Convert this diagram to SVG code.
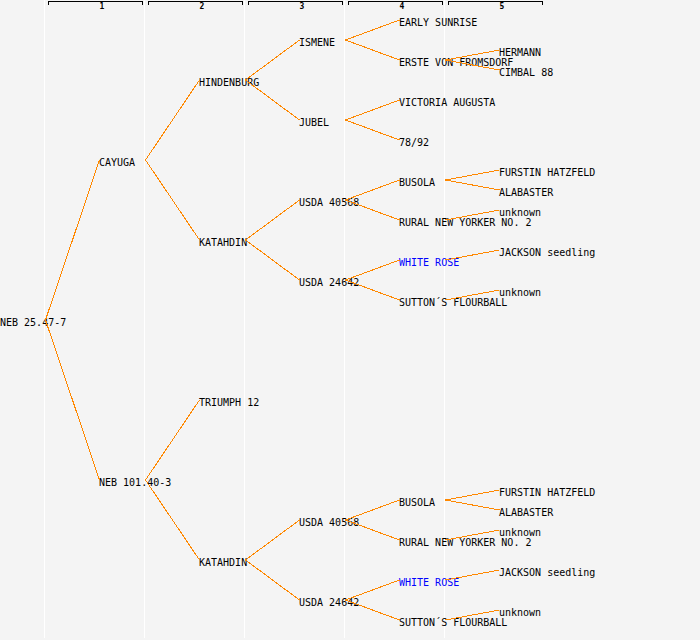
<svg xmlns="http://www.w3.org/2000/svg" width="700" height="640" viewBox="0 0 700 640">
<style>
.bg{fill:#f4f4f4}
.sep{stroke:#ffffff;stroke-width:1;shape-rendering:crispEdges}
.br{fill:none;stroke:#000;stroke-width:1;shape-rendering:crispEdges}
.hd{font-family:"DejaVu Sans Mono","Liberation Mono",monospace;font-size:8px;font-weight:bold;fill:#000;text-anchor:middle}
.t{font-family:"DejaVu Sans Mono","Liberation Mono",monospace;font-size:10px;fill:#000}
.b{fill:#0000ff}
#connectors line{stroke:#ff8800;stroke-width:1;shape-rendering:crispEdges}
</style>
<rect class="bg" x="0" y="0" width="700" height="640"/>
<g id="grid">
<line class="sep" x1="44.5" y1="0" x2="44.5" y2="638"/>
<line class="sep" x1="144.5" y1="0" x2="144.5" y2="638"/>
<line class="sep" x1="244.5" y1="0" x2="244.5" y2="638"/>
<line class="sep" x1="344.5" y1="0" x2="344.5" y2="638"/>
<line class="sep" x1="444.5" y1="0" x2="444.5" y2="638"/>
<path class="br" d="M48.5 4.5V1.5H142.5V4.5M148.5 4.5V1.5H242.5V4.5M248.5 4.5V1.5H342.5V4.5M348.5 4.5V1.5H442.5V4.5M448.5 4.5V1.5H542.5V4.5"/>
<text class="hd" x="102" y="9">1</text>
<text class="hd" x="202" y="9">2</text>
<text class="hd" x="302" y="9">3</text>
<text class="hd" x="402" y="9">4</text>
<text class="hd" x="502" y="9">5</text>
</g>
<g id="n1"><text class="t" x="0" y="326">NEB 25.47-7</text></g>
<g id="n2"><text class="t" x="99" y="166">CAYUGA</text></g>
<g id="n3"><text class="t" x="99" y="486">NEB 101.40-3</text></g>
<g id="n4"><text class="t" x="199" y="86">HINDENBURG</text></g>
<g id="n5"><text class="t" x="199" y="246">KATAHDIN</text></g>
<g id="n6"><text class="t" x="199" y="406">TRIUMPH 12</text></g>
<g id="n7"><text class="t" x="199" y="566">KATAHDIN</text></g>
<g id="n8"><text class="t" x="299" y="46">ISMENE</text></g>
<g id="n9"><text class="t" x="299" y="126">JUBEL</text></g>
<g id="n10"><text class="t" x="299" y="206">USDA 40568</text></g>
<g id="n11"><text class="t" x="299" y="286">USDA 24642</text></g>
<g id="n12"><text class="t" x="299" y="526">USDA 40568</text></g>
<g id="n13"><text class="t" x="299" y="606">USDA 24642</text></g>
<g id="n14"><text class="t" x="399" y="26">EARLY SUNRISE</text></g>
<g id="n15"><text class="t" x="399" y="66">ERSTE VON FROMSDORF</text></g>
<g id="n16"><text class="t" x="399" y="106">VICTORIA AUGUSTA</text></g>
<g id="n17"><text class="t" x="399" y="146">78/92</text></g>
<g id="n18"><text class="t" x="399" y="186">BUSOLA</text></g>
<g id="n19"><text class="t" x="399" y="226">RURAL NEW YORKER NO. 2</text></g>
<g id="n20"><text class="t b" x="399" y="266">WHITE ROSE</text></g>
<g id="n21"><text class="t" x="399" y="306">SUTTON´S FLOURBALL</text></g>
<g id="n22"><text class="t" x="399" y="506">BUSOLA</text></g>
<g id="n23"><text class="t" x="399" y="546">RURAL NEW YORKER NO. 2</text></g>
<g id="n24"><text class="t b" x="399" y="586">WHITE ROSE</text></g>
<g id="n25"><text class="t" x="399" y="626">SUTTON´S FLOURBALL</text></g>
<g id="n26"><text class="t" x="499" y="56">HERMANN</text></g>
<g id="n27"><text class="t" x="499" y="76">CIMBAL 88</text></g>
<g id="n28"><text class="t" x="499" y="176">FURSTIN HATZFELD</text></g>
<g id="n29"><text class="t" x="499" y="196">ALABASTER</text></g>
<g id="n30"><text class="t" x="499" y="216">unknown</text></g>
<g id="n31"><text class="t" x="499" y="256">JACKSON seedling</text></g>
<g id="n32"><text class="t" x="499" y="296">unknown</text></g>
<g id="n33"><text class="t" x="499" y="496">FURSTIN HATZFELD</text></g>
<g id="n34"><text class="t" x="499" y="516">ALABASTER</text></g>
<g id="n35"><text class="t" x="499" y="536">unknown</text></g>
<g id="n36"><text class="t" x="499" y="576">JACKSON seedling</text></g>
<g id="n37"><text class="t" x="499" y="616">unknown</text></g>
<g id="connectors">
<line x1="45.5" y1="320" x2="99.5" y2="160"/>
<line x1="45.5" y1="320" x2="99.5" y2="480"/>
<line x1="145.5" y1="160" x2="199.5" y2="80"/>
<line x1="145.5" y1="160" x2="199.5" y2="240"/>
<line x1="145.5" y1="480" x2="199.5" y2="400"/>
<line x1="145.5" y1="480" x2="199.5" y2="560"/>
<line x1="245.5" y1="80" x2="299.5" y2="40"/>
<line x1="245.5" y1="80" x2="299.5" y2="120"/>
<line x1="245.5" y1="240" x2="299.5" y2="200"/>
<line x1="245.5" y1="240" x2="299.5" y2="280"/>
<line x1="245.5" y1="560" x2="299.5" y2="520"/>
<line x1="245.5" y1="560" x2="299.5" y2="600"/>
<line x1="345.5" y1="40" x2="399.5" y2="20"/>
<line x1="345.5" y1="40" x2="399.5" y2="60"/>
<line x1="345.5" y1="120" x2="399.5" y2="100"/>
<line x1="345.5" y1="120" x2="399.5" y2="140"/>
<line x1="345.5" y1="200" x2="399.5" y2="180"/>
<line x1="345.5" y1="200" x2="399.5" y2="220"/>
<line x1="345.5" y1="280" x2="399.5" y2="260"/>
<line x1="345.5" y1="280" x2="399.5" y2="300"/>
<line x1="345.5" y1="520" x2="399.5" y2="500"/>
<line x1="345.5" y1="520" x2="399.5" y2="540"/>
<line x1="345.5" y1="600" x2="399.5" y2="580"/>
<line x1="345.5" y1="600" x2="399.5" y2="620"/>
<line x1="445.5" y1="60" x2="499.5" y2="50"/>
<line x1="445.5" y1="60" x2="499.5" y2="70"/>
<line x1="445.5" y1="180" x2="499.5" y2="170"/>
<line x1="445.5" y1="180" x2="499.5" y2="190"/>
<line x1="445.5" y1="220" x2="499.5" y2="210"/>
<line x1="445.5" y1="260" x2="499.5" y2="250"/>
<line x1="445.5" y1="300" x2="499.5" y2="290"/>
<line x1="445.5" y1="500" x2="499.5" y2="490"/>
<line x1="445.5" y1="500" x2="499.5" y2="510"/>
<line x1="445.5" y1="540" x2="499.5" y2="530"/>
<line x1="445.5" y1="580" x2="499.5" y2="570"/>
<line x1="445.5" y1="620" x2="499.5" y2="610"/>
</g>
</svg>
